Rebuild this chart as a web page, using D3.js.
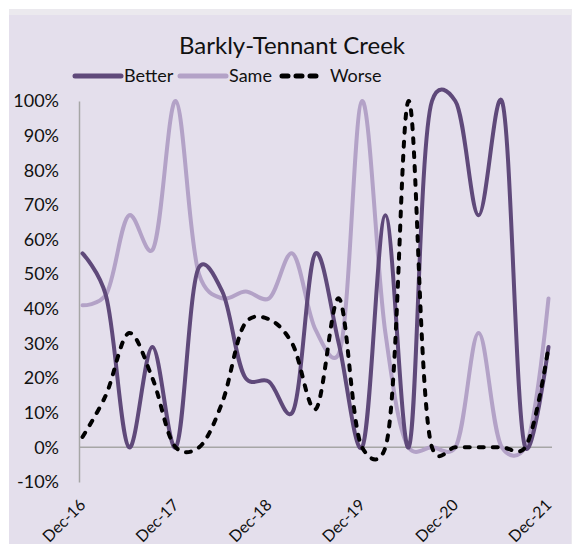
<!DOCTYPE html>
<html>
<head>
<meta charset="utf-8">
<script src="https://cdn.jsdelivr.net/npm/d3@7"></script>
<style>
  body { margin: 0; background: #fff; }
  text { font-family: Lato, "Open Sans", sans-serif; fill: #111; }
</style>
</head>
<body>
<div id="chart"></div>
<script>
// quarterly values, Dec-16 .. Dec-21 (percent)
var quarters = d3.range(21);
var better = [56, 44, 0, 29, 0, 52, 45, 20, 19, 10, 56, 30, 0, 67, 0, 100, 100, 67, 100, 0, 29];
var same   = [41, 44, 67, 57, 100, 50, 43, 45, 43, 56, 34, 27, 100, 33, 0, 0, 0, 33, 0, 0, 43];
var worse  = [3, 15, 33, 20, 0, 0, 13, 36, 37, 30, 11, 43, 0, 0, 100, 0, 0, 0, 0, 0, 29];
var tickLabels = ["Dec-16", "Dec-17", "Dec-18", "Dec-19", "Dec-20", "Dec-21"];
var yTicks = [-10, 0, 10, 20, 30, 40, 50, 60, 70, 80, 90, 100];

var W = 573, H = 544;
var svg = d3.select("#chart").append("svg")
    .attr("width", W)
    .attr("height", H);

// chart box
svg.append("rect").attr("x", 9).attr("y", 9).attr("width", 563).attr("height", H - 9)
    .attr("fill", "#ebe9ee");
svg.append("rect").attr("x", 9).attr("y", 15).attr("width", 562).attr("height", H - 15)
    .attr("fill", "#e4dfec");

var x = d3.scaleLinear().domain([-0.15, 20.15]).range([79, 552]);
var y = d3.scaleLinear().domain([-10, 100]).range([482, 101]);

// title
svg.append("text")
    .attr("x", 292).attr("y", 54)
    .attr("text-anchor", "middle")
    .style("font-size", "24px")
    .text("Barkly-Tennant Creek");

// y axis
var yAxis = svg.append("g").attr("transform", "translate(" + x(-0.15) + ",0)")
    .call(d3.axisLeft(y).tickValues(yTicks).tickSize(0).tickPadding(20)
        .tickFormat(function(d) { return d + "%"; }));
yAxis.select(".domain").attr("stroke", "#a6a6a6").attr("stroke-width", 1.5);
yAxis.selectAll("text").style("font-size", "18px").attr("fill", "#111");

// zero line
svg.append("line")
    .attr("x1", x(-0.15)).attr("x2", x(20.15))
    .attr("y1", y(0)).attr("y2", y(0))
    .attr("stroke", "#a6a6a6").attr("stroke-width", 1.5);

// x labels
svg.selectAll(".xlab")
    .data(tickLabels)
    .enter().append("text")
    .attr("class", "xlab")
    .attr("text-anchor", "end")
    .style("font-size", "16px")
    .attr("transform", function(d, i) {
        return "translate(" + (x(i * 4) + 4) + "," + 506 + ") rotate(-45)";
    })
    .text(function(d) { return d; });

var line = d3.line()
    .x(function(d, i) { return x(i); })
    .y(function(d) { return y(d); })
    .curve(d3.curveCatmullRom.alpha(0.25));

var series = [
    {name: "Better", values: better, color: "#5f497a", dash: null},
    {name: "Same", values: same, color: "#b3a2c7", dash: null},
    {name: "Worse", values: worse, color: "#000000", dash: "5,9"}
];

// draw Same first, then Better, then Worse on top
[series[1], series[0], series[2]].forEach(function(s) {
    svg.append("path")
        .datum(s.values)
        .attr("d", line)
        .attr("fill", "none")
        .attr("stroke", s.color)
        .attr("stroke-width", 4)
        .attr("stroke-linecap", "round")
        .attr("stroke-dasharray", s.dash);
});

// legend
var legendX = [75, 180, 282];
var legend = svg.selectAll(".leg")
    .data(series)
    .enter().append("g")
    .attr("class", "leg")
    .attr("transform", function(d, i) { return "translate(" + legendX[i] + ",76)"; });
legend.append("line")
    .attr("x1", 0).attr("x2", function(d) { return d.dash ? 40 : 46; })
    .attr("stroke", function(d) { return d.color; })
    .attr("stroke-width", 5)
    .attr("stroke-linecap", "round")
    .attr("stroke-dasharray", function(d) { return d.dash ? "6,8" : null; });
legend.append("text")
    .attr("x", function(d) { return d.dash ? 48 : 49; })
    .attr("y", 6)
    .style("font-size", "18px")
    .text(function(d) { return d.name; });
</script>
</body>
</html>
